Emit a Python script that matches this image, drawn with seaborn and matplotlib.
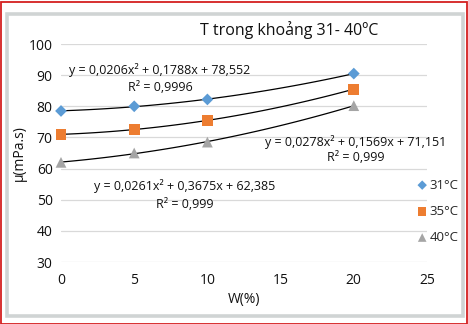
import numpy as np
import pandas as pd
import matplotlib
matplotlib.use("Agg")
import matplotlib.pyplot as plt
import seaborn as sns
from matplotlib.patches import Rectangle

sns.set_theme(style="white")
plt.rcParams['font.family'] = ['Open Sans', 'DejaVu Sans']

w_values = [0, 5, 10, 20]
series_labels = ["31°C", "35°C", "40°C"]
mu_31 = [78.5, 80.0, 82.2, 90.5]
mu_35 = [71.0, 72.5, 75.5, 85.5]
mu_40 = [62.0, 65.0, 68.5, 80.2]
x_ticks = [0, 5, 10, 15, 20, 25]
y_ticks = [30, 40, 50, 60, 70, 80, 90, 100]
equations = ["y = 0,0206x² + 0,1788x + 78,552", "y = 0,0278x² + 0,1569x + 71,151",
             "y = 0,0261x² + 0,3675x + 62,385"]
r2_texts = ["R² = 0,9996", "R² = 0,999", "R² = 0,999"]

colors = ["#5B9BD5", "#ED7D31", "#A5A5A5"]
markers = ["D", "s", "^"]
msizes = [36, 60, 60]

df = pd.DataFrame({
    "W": w_values * 3,
    "mu": mu_31 + mu_35 + mu_40,
    "T": sum([[s] * len(w_values) for s in series_labels], []),
})

fig = plt.figure(figsize=(4.68, 3.24), dpi=100)
fig.patch.set_facecolor("white")
ax = fig.add_axes([61/468, 62/324, 366/468, 218/324])

for lab in series_labels:
    sub = df[df["T"] == lab]
    sns.regplot(data=sub, x="W", y="mu", order=2, ci=None, scatter=False,
                truncate=True, line_kws=dict(color="black", lw=0.9), ax=ax)

for lab, c, m, s in zip(series_labels, colors, markers, msizes):
    sub = df[df["T"] == lab]
    sns.scatterplot(data=sub, x="W", y="mu", color=c, marker=m, s=s,
                    edgecolor="none", ax=ax, label=lab, zorder=3)

ax.set_xlim(0, 25)
ax.set_ylim(30, 100)
ax.set_xticks(x_ticks)
ax.set_yticks(y_ticks)
ax.yaxis.grid(True, color="#D9D9D9", lw=0.9)
ax.xaxis.grid(False)
for sp in ax.spines.values():
    sp.set_visible(False)
ax.tick_params(axis="both", length=0, labelsize=10, colors="#111111", pad=6)
ax.tick_params(axis="x", pad=8)
ax.set_xlabel("W(%)", fontsize=10, color="#111111", labelpad=3)
ax.set_ylabel("μ(mPa.s)", fontsize=10, color="#111111", labelpad=1)
for coll in ax.collections:
    coll.set_clip_on(False)

ax.legend(loc="upper left", bbox_to_anchor=(409/468, 1 - 172/324),
          bbox_transform=fig.transFigure, frameon=False, fontsize=9.5,
          handletextpad=0.05, labelspacing=1.0, borderpad=0, handlelength=1.0,
          markerscale=0.8)

fig.text(289/468, 1 - 30/324, "T trong khoảng 31- 40ºC", ha="center", va="center",
         fontsize=11.5, color="#111111")

eq_pos = [(160, 70, 87), (356, 142, 158), (185, 186, 205)]
for (px, py1, py2), eq, r2 in zip(eq_pos, equations, r2_texts):
    fig.text(px/468, 1 - py1/324, eq, ha="center", va="center", fontsize=9, color="#111111")
    fig.text(px/468, 1 - py2/324, r2, ha="center", va="center", fontsize=9, color="#111111")

# outer frames
fig.patches.append(Rectangle((0.5/468, 0.5/324), 466.5/468, 322/324, transform=fig.transFigure,
                             fill=False, edgecolor="#D42020", lw=1.3))
fig.patches.append(Rectangle((6.5/468, 1 - 316/324), 456/468, 302/324, transform=fig.transFigure,
                             fill=False, edgecolor="#D0D4D4", lw=2.6))

fig.savefig("out.png", dpi=100, facecolor="white")
